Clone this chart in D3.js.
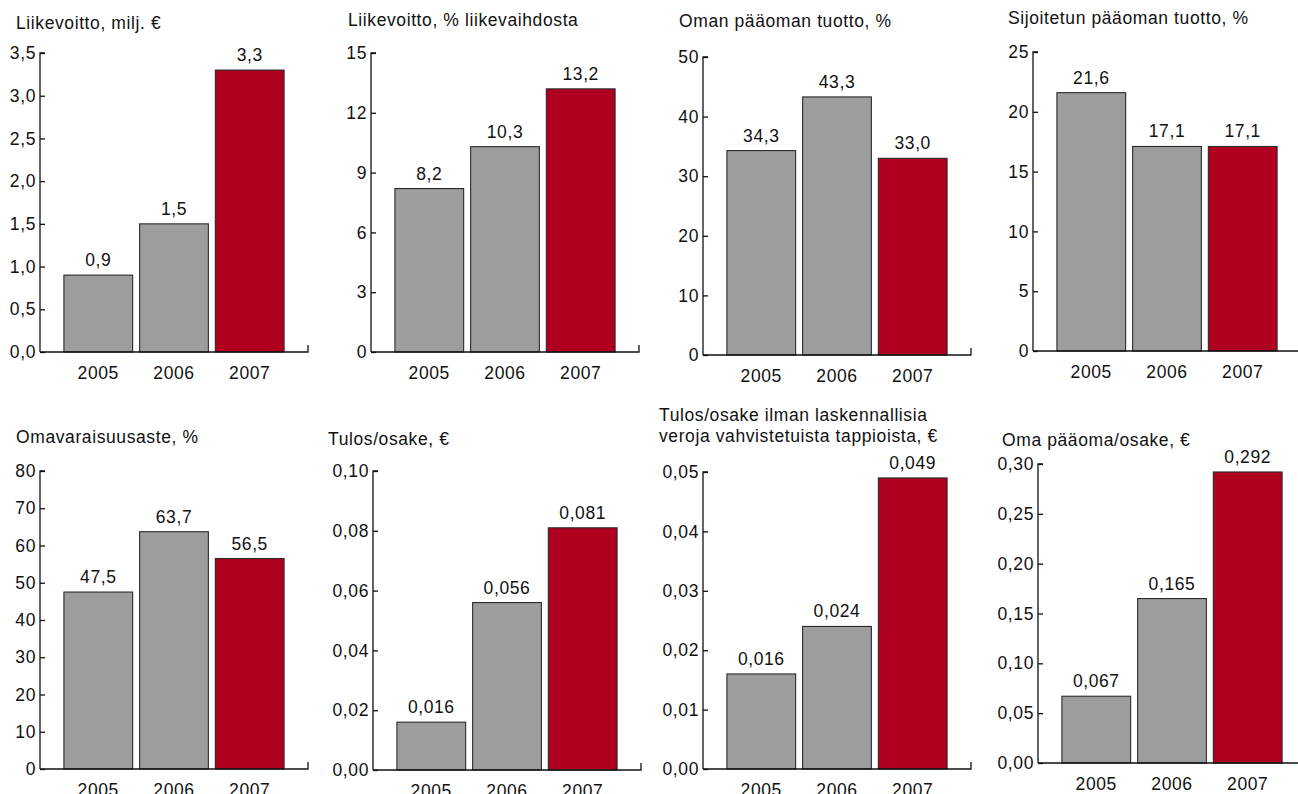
<!DOCTYPE html>
<html>
<head>
<meta charset="utf-8">
<script src="https://cdn.jsdelivr.net/npm/d3@7"></script>
<style>
  html, body { margin: 0; padding: 0; background: #fff; }
  svg { display: block; }
  text { font-family: "Liberation Sans", Arial, Helvetica, sans-serif; fill: #111; }
</style>
</head>
<body>
<svg id="chart" width="1298" height="794"></svg>
<script>
// ---- data ----
const years = ["2005", "2006", "2007"];

const titles = [
  ["Liikevoitto, milj. €"],
  ["Liikevoitto, % liikevaihdosta"],
  ["Oman pääoman tuotto, %"],
  ["Sijoitetun pääoman tuotto, %"],
  ["Omavaraisuusaste, %"],
  ["Tulos/osake, €"],
  ["Tulos/osake ilman laskennallisia", "veroja vahvistetuista tappioista, €"],
  ["Oma pääoma/osake, €"]
];

const liikevoitto = [0.9, 1.5, 3.3];
const liikevoittoPct = [8.2, 10.3, 13.2];
const omanPaaomanTuotto = [34.3, 43.3, 33.0];
const sijoitetunPaaomanTuotto = [21.6, 17.1, 17.1];
const omavaraisuusaste = [47.5, 63.7, 56.5];
const tulosOsake = [0.016, 0.056, 0.081];
const tulosOsakeIlmanVeroja = [0.016, 0.024, 0.049];
const omaPaaomaOsake = [0.067, 0.165, 0.292];

const ticks1 = [0, 0.5, 1.0, 1.5, 2.0, 2.5, 3.0, 3.5];
const ticks2 = [0, 3, 6, 9, 12, 15];
const ticks3 = [0, 10, 20, 30, 40, 50];
const ticks4 = [0, 5, 10, 15, 20, 25];
const ticks5 = [0, 10, 20, 30, 40, 50, 60, 70, 80];
const ticks6 = [0, 0.02, 0.04, 0.06, 0.08, 0.10];
const ticks7 = [0, 0.01, 0.02, 0.03, 0.04, 0.05];
const ticks8 = [0, 0.05, 0.10, 0.15, 0.20, 0.25, 0.30];

const tickDecimals = [1, 0, 0, 0, 0, 2, 2, 2];
const valueDecimals = [1, 1, 1, 1, 1, 3, 3, 3];

// ---- layout (positions only) ----
const layout = [
  { ax: 40,   top: 53,  base: 352, tx: 16,   ty: [29] },
  { ax: 371,  top: 53,  base: 352, tx: 348,  ty: [26] },
  { ax: 703,  top: 57,  base: 355, tx: 679,  ty: [27] },
  { ax: 1033, top: 52,  base: 351, tx: 1008, ty: [24] },
  { ax: 40,   top: 471, base: 769, tx: 16,   ty: [443] },
  { ax: 373,  top: 471, base: 770, tx: 328,  ty: [445] },
  { ax: 703,  top: 472, base: 769, tx: 659,  ty: [421, 442] },
  { ax: 1038, top: 464, base: 763, tx: 1002, ty: [446] }
];

const seriesList = [liikevoitto, liikevoittoPct, omanPaaomanTuotto, sijoitetunPaaomanTuotto,
                    omavaraisuusaste, tulosOsake, tulosOsakeIlmanVeroja, omaPaaomaOsake];
const tickList = [ticks1, ticks2, ticks3, ticks4, ticks5, ticks6, ticks7, ticks8];

const GRAY = "#9c9d9f";
const RED = "#b0001f";
const FONT = 17.5;
const LS = "0.6px";

const svg = d3.select("#chart");
const fmt = (v, d) => v.toFixed(d).replace(".", ",");

seriesList.forEach((vals, i) => {
  const L = layout[i];
  const ticks = tickList[i];
  const axisLen = 268;
  const g = svg.append("g");

  const x = d3.scaleBand().domain(years)
    .range([L.ax, L.ax + axisLen])
    .paddingInner(7 / 76)
    .paddingOuter(24 / 76);
  const y = d3.scaleLinear().domain([0, ticks[ticks.length - 1]]).range([L.base, L.top]);

  // title
  titles[i].forEach((t, k) => {
    g.append("text").attr("x", L.tx).attr("y", L.ty[k])
      .attr("font-size", FONT).style("letter-spacing", LS).text(t);
  });

  // bars
  g.selectAll("rect.bar").data(vals).join("rect")
    .attr("class", "bar")
    .attr("x", (d, j) => x(years[j]))
    .attr("width", x.bandwidth())
    .attr("y", d => y(d))
    .attr("height", d => y(0) - y(d))
    .attr("fill", (d, j) => j === 2 ? RED : GRAY)
    .attr("stroke", "#2a2a2a")
    .attr("stroke-width", 1.1);

  // value labels
  g.selectAll("text.val").data(vals).join("text")
    .attr("class", "val")
    .attr("x", (d, j) => x(years[j]) + x.bandwidth() / 2)
    .attr("y", d => y(d) - 9)
    .attr("text-anchor", "middle")
    .attr("font-size", FONT).style("letter-spacing", LS)
    .text(d => fmt(d, valueDecimals[i]));

  // y axis
  const yAxis = d3.axisRight(y).tickValues(ticks).tickSize(5)
    .tickFormat(d => fmt(d, tickDecimals[i]));
  const ya = g.append("g").attr("transform", `translate(${L.ax},0)`).call(yAxis);
  ya.select(".domain").attr("d", `M5,${L.top}H0V${L.base}`).attr("stroke", "#111").attr("stroke-width", 1.3);
  ya.selectAll(".tick line").attr("stroke", "#111").attr("stroke-width", 1.3);
  ya.selectAll(".tick text").attr("x", -4).attr("text-anchor", "end")
    .attr("font-size", FONT).style("letter-spacing", LS).attr("font-family", null).attr("fill", "#111");

  // x axis
  const xAxis = d3.axisBottom(x).tickSize(0).tickPadding(15);
  const xa = g.append("g").attr("transform", `translate(0,${L.base})`).call(xAxis);
  xa.select(".domain").attr("d", `M${L.ax},0H${L.ax + axisLen}V-7`).attr("stroke", "#111").attr("stroke-width", 1.3).attr("fill", "none");
  xa.selectAll(".tick text").attr("font-size", FONT).style("letter-spacing", LS)
    .attr("font-family", null).attr("fill", "#111");
});
</script>
</body>
</html>
